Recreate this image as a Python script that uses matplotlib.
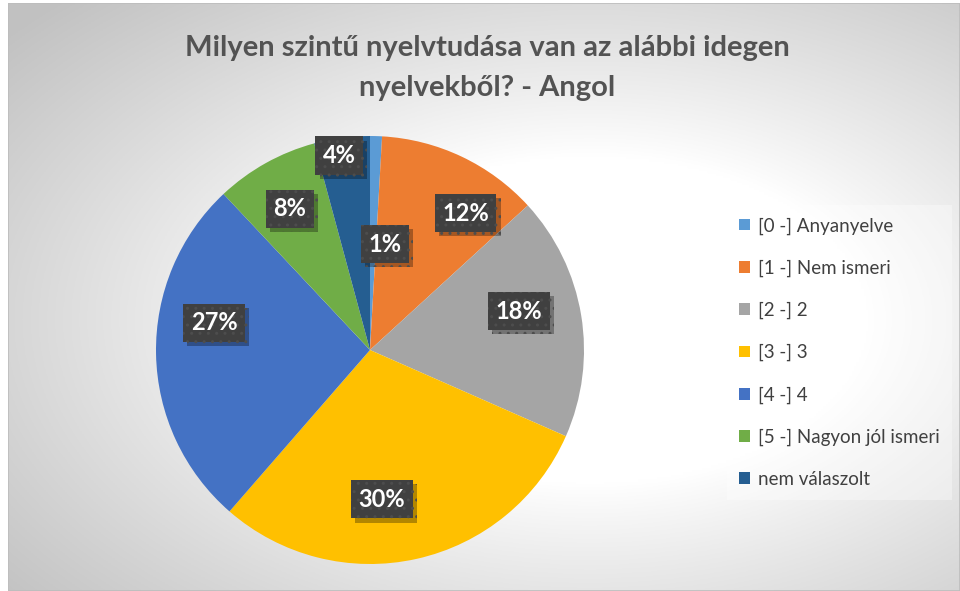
import numpy as np
import matplotlib
matplotlib.use("Agg")
import matplotlib.pyplot as plt
from matplotlib.patches import Patch, Rectangle
import matplotlib.patheffects as pe

plt.rcParams['font.family'] = ['Lato', 'DejaVu Sans']

# data
categories = ["[0 -] Anyanyelve", "[1 -] Nem ismeri", "[2 -] 2", "[3 -] 3",
              "[4 -] 4", "[5 -] Nagyon jól ismeri", "nem válaszolt"]
shares = [0.9, 12.3, 18.4, 29.8, 26.6, 7.8, 4.2]
colors = ["#5B9BD5", "#ED7D31", "#A5A5A5", "#FFC000", "#4472C4", "#70AD47", "#255E91"]
title = "Milyen szintű nyelvtudása van az alábbi idegen\nnyelvekből? - Angol"

# label placement nudges (clockwise degrees, radius fraction), Excel best-fit style
label_nudge = [6.4, 9.5, -5.2, 8.0, 11.0, -0.5, -1.4]
label_rad = [0.50, 0.78, 0.72, 0.70, 0.74, 0.76, 0.92]

W, H = 960, 591
fig = plt.figure(figsize=(W / 100, H / 100), dpi=100)
fig.patch.set_facecolor("white")

# background gradient (chart area)
bg = fig.add_axes([8 / W, 0, 1 - 8 / W, 588 / H])
xs = np.linspace(8, W, 400)
ys = np.linspace(3, H, 250)
X, Y = np.meshgrid(xs, ys)
d = np.sqrt(((X - 590) / 560) ** 2 + ((Y - 320) / 330) ** 2)
t = np.clip((d - 0.5) / 0.85, 0, 1) ** 0.9
g = 1 - t * 0.24
bg.imshow(np.dstack([g, g, g]), extent=(0, 1, 0, 1), aspect="auto", origin="upper")
bg.add_patch(Rectangle((0, 0), 1, 1, transform=bg.transAxes, fill=False,
                       edgecolor="#bdbdbd", linewidth=1.2))
bg.set_axis_off()

# pie
cx, cy, r = 370, 350, 214
ax = fig.add_axes([(cx - r) / W, (H - cy - r) / H, 2 * r / W, 2 * r / H])
wedges, _ = ax.pie(shares, colors=colors, startangle=90, counterclock=False,
                   radius=1, wedgeprops=dict(linewidth=0))
ax.set_xlim(-1, 1)
ax.set_ylim(-1, 1)
ax.set_aspect("equal")
ax.set_axis_off()

for w, v, nud, rad in zip(wedges, shares, label_nudge, label_rad):
    ang = np.deg2rad((w.theta1 + w.theta2) / 2 - nud)
    x, y = rad * np.cos(ang), rad * np.sin(ang)
    lbl = ax.text(x, y, f"{v:.0f}%", ha="center", va="center", fontsize=17,
                  fontweight="bold", color="white",
                  bbox=dict(boxstyle="square,pad=0.32", facecolor="#404040",
                            edgecolor="#4d4d4d", linewidth=0, hatch=".."))
    lbl.get_bbox_patch().set_path_effects(
        [pe.SimplePatchShadow(offset=(3, -3), shadow_rgbFace="black", alpha=0.3),
         pe.Normal()])

fig.text(487 / W, 1 - 68 / H, title, ha="center", va="center", fontsize=21,
         fontweight="bold", color="#535353", linespacing=1.62)

handles = [Patch(facecolor=c, edgecolor="none") for c in colors]
leg = fig.legend(handles, categories, loc="upper left",
                 bbox_to_anchor=(727 / W, 1 - 205 / H), fontsize=13.5,
                 frameon=True, fancybox=False, handlelength=0.58, handleheight=0.58,
                 handletextpad=0.4, labelspacing=1.33, borderpad=0.65,
                 borderaxespad=0)
leg.get_frame().set_facecolor("white")
leg.get_frame().set_alpha(0.35)
leg.get_frame().set_linewidth(0)
for tx in leg.get_texts():
    tx.set_color("#404040")

fig.savefig("out.png", dpi=100)
